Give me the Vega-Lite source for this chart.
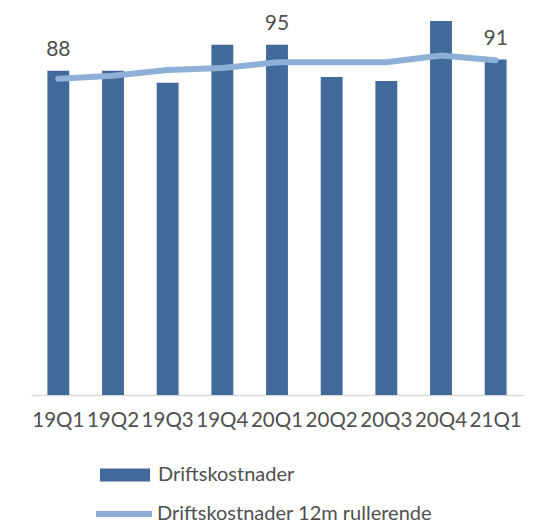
{
  "$schema": "https://vega.github.io/schema/vega-lite/v6.json",
  "width": 492,
  "height": 387,
  "autosize": "none",
  "padding": {"left": 31, "top": 8, "right": 28, "bottom": 128},
  "background": "white",
  "config": {
    "view": {"stroke": null},
    "font": "Lato",
    "text": {"font": "Lato"}
  },
  "data": {
    "values": [
      {"q": "19Q1", "v": 88, "r": 85.8, "lbl": "88"},
      {"q": "19Q2", "v": 88, "r": 86.6, "lbl": ""},
      {"q": "19Q3", "v": 84.7, "r": 88.2, "lbl": ""},
      {"q": "19Q4", "v": 95, "r": 88.7, "lbl": ""},
      {"q": "20Q1", "v": 95, "r": 90.3, "lbl": "95"},
      {"q": "20Q2", "v": 86.3, "r": 90.3, "lbl": ""},
      {"q": "20Q3", "v": 85.2, "r": 90.3, "lbl": ""},
      {"q": "20Q4", "v": 101.5, "r": 92.1, "lbl": ""},
      {"q": "21Q1", "v": 91, "r": 90.8, "lbl": "91"}
    ]
  },
  "encoding": {
    "x": {
      "field": "q",
      "type": "nominal",
      "sort": null,
      "title": null,
      "scale": {"paddingInner": 0.6, "paddingOuter": 0.3},
      "axis": {
        "domainColor": "#d9d9d9",
        "domainWidth": 1.5,
        "ticks": false,
        "labelAngle": 0,
        "labelFontSize": 20.5,
        "labelColor": "#505050",
        "labelFont": "Lato",
        "labelPadding": 15,
        "labelOverlap": false,
        "labelFlush": false
      }
    }
  },
  "layer": [
    {
      "mark": {"type": "bar"},
      "encoding": {
        "y": {"field": "v", "type": "quantitative", "axis": null, "scale": {"domain": [0, 105], "nice": false}},
        "fill": {
          "datum": "Driftskostnader",
          "type": "nominal",
          "scale": {"range": ["#41699a"]},
          "legend": {
            "orient": "none",
            "legendX": 69,
            "legendY": 442,
            "title": null,
            "padding": 0,
            "symbolType": "M-1,-0.26H1V0.26H-1Z",
            "symbolSize": 2500,
            "symbolStrokeWidth": 0,
            "labelFontSize": 20,
            "labelFont": "Lato",
            "labelColor": "#505050",
            "labelOffset": 8,
            "labelLimit": 400
          }
        }
      }
    },
    {
      "mark": {"type": "line", "strokeWidth": 6, "strokeCap": "round", "strokeJoin": "round"},
      "encoding": {
        "y": {"field": "r", "type": "quantitative"},
        "stroke": {
          "datum": "Driftskostnader 12m rullerende",
          "type": "nominal",
          "scale": {"range": ["#8eb0d8"]},
          "legend": {
            "orient": "none",
            "legendX": 62,
            "legendY": 475,
            "title": null,
            "padding": 0,
            "symbolType": "stroke",
            "symbolSize": 3136,
            "symbolStrokeWidth": 6,
            "labelFontSize": 20,
            "labelFont": "Lato",
            "labelColor": "#505050",
            "labelOffset": 2,
            "labelLimit": 400
          }
        }
      }
    },
    {
      "mark": {"type": "text", "baseline": "alphabetic", "dy": -15, "fontSize": 21, "color": "#505050"},
      "encoding": {
        "y": {"field": "v", "type": "quantitative"},
        "text": {"field": "lbl"}
      }
    }
  ]
}
